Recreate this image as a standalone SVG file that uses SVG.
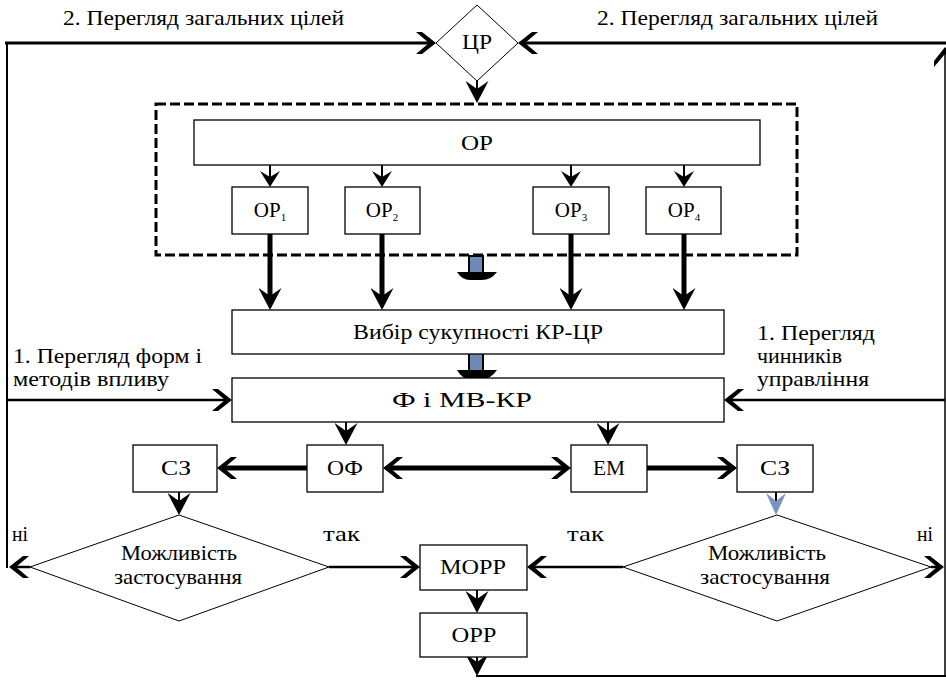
<svg xmlns="http://www.w3.org/2000/svg" width="946" height="680" viewBox="0 0 946 680">
<defs>
<style>
.box{fill:#fff;stroke:#000;stroke-width:1.3}
.dia{fill:#fff;stroke:#000;stroke-width:1}
.dash{fill:none;stroke:#000;stroke-width:3;stroke-dasharray:10 4}
.ln{fill:none;stroke:#000}
.w2{stroke-width:2.5}
.w3{stroke-width:3}
.w5{stroke-width:5}
.blk{fill:#6f89b6;stroke:#000;stroke-width:2}
</style>
<marker id="chev" markerUnits="userSpaceOnUse" viewBox="0 0 20 22" markerWidth="20" markerHeight="22" refX="14" refY="11" orient="auto-start-reverse">
<path d="M0,0 L6,0 L20,11 L6,22 L0,22 L13,11 z" fill="#000"/>
</marker>
<marker id="st" markerUnits="userSpaceOnUse" viewBox="0 0 16 20" markerWidth="16" markerHeight="20" refX="10" refY="10" orient="auto">
<path d="M0,0 L16,10 L0,20 L6,10 z" fill="#000"/>
</marker>
<marker id="stL" markerUnits="userSpaceOnUse" viewBox="0 0 22 23" markerWidth="22" markerHeight="23" refX="14" refY="11.5" orient="auto">
<path d="M0,0 L22,11.5 L0,23 L8,11.5 z" fill="#000"/>
</marker>
<marker id="stB" markerUnits="userSpaceOnUse" viewBox="0 0 22 20" markerWidth="22" markerHeight="20" refX="14" refY="10" orient="auto">
<path d="M0,0 L22,10 L0,20 L8,10 z" fill="#7b93bd"/>
</marker>
</defs>
<rect width="946" height="680" fill="#fff"/>

<g id="labels">
<text font-family="Liberation Serif" font-size="21" x="63" y="25" textLength="281" lengthAdjust="spacingAndGlyphs">2. Перегляд загальних цілей</text>
<text font-family="Liberation Serif" font-size="21" x="597" y="25" textLength="281" lengthAdjust="spacingAndGlyphs">2. Перегляд загальних цілей</text>
<text font-family="Liberation Serif" font-size="21" x="13" y="363" textLength="189" lengthAdjust="spacingAndGlyphs">1. Перегляд форм і</text>
<text font-family="Liberation Serif" font-size="21" x="13" y="386" textLength="156" lengthAdjust="spacingAndGlyphs">методів впливу</text>
<text font-family="Liberation Serif" font-size="21" x="757" y="340" textLength="118" lengthAdjust="spacingAndGlyphs">1. Перегляд</text>
<text font-family="Liberation Serif" font-size="21" x="757" y="363" textLength="85" lengthAdjust="spacingAndGlyphs">чинників</text>
<text font-family="Liberation Serif" font-size="21" x="757" y="386" textLength="112" lengthAdjust="spacingAndGlyphs">управління</text>
<text font-family="Liberation Serif" font-size="21" x="12" y="541" textLength="16" lengthAdjust="spacingAndGlyphs">ні</text>
<text font-family="Liberation Serif" font-size="21" x="323" y="541" textLength="37" lengthAdjust="spacingAndGlyphs">так</text>
<text font-family="Liberation Serif" font-size="21" x="567" y="541" textLength="37" lengthAdjust="spacingAndGlyphs">так</text>
<text font-family="Liberation Serif" font-size="21" x="917" y="541" textLength="16" lengthAdjust="spacingAndGlyphs">ні</text>
</g>

<g id="connectors">
<path class="ln" d="M7,568 V43" stroke-width="2" stroke="#333"/>
<path class="ln w3" d="M5,43 H430" marker-end="url(#chev)"/>
<path class="ln w3" d="M946,43 H524" marker-end="url(#chev)"/>
<path class="ln" d="M945,676 V53" stroke-width="1.5" stroke="#333" marker-end="url(#chev)"/>
<path class="ln" d="M476,676 H946" stroke-width="2"/>
<path class="ln" d="M477,81 V95" stroke-width="2" marker-end="url(#stL)"/>
<path class="ln" d="M270,165 V181" stroke-width="2" marker-end="url(#st)"/>
<path class="ln" d="M382,165 V181" stroke-width="2" marker-end="url(#st)"/>
<path class="ln" d="M571,165 V181" stroke-width="2" marker-end="url(#st)"/>
<path class="ln" d="M684,165 V181" stroke-width="2" marker-end="url(#st)"/>
<path class="ln w5" d="M270,234 V302" marker-end="url(#stL)"/>
<path class="ln w5" d="M382,234 V302" marker-end="url(#stL)"/>
<path class="ln w5" d="M571,234 V302" marker-end="url(#stL)"/>
<path class="ln w5" d="M684,234 V302" marker-end="url(#stL)"/>
<rect class="blk" x="469" y="256" width="14" height="17"/>
<path d="M457,272 Q462,280 470,280 H482 Q491,280 497,272 Z" fill="#000"/>
<rect class="blk" x="469" y="353" width="14" height="18"/>
<path d="M457,370 Q462,379 470,379 H482 Q491,379 497,370 Z" fill="#000"/>
<path class="ln w2" d="M7,400 H226" marker-end="url(#chev)"/>
<path class="ln w2" d="M945,400 H730" marker-end="url(#chev)"/>
<path class="ln" d="M346,422 V437" stroke-width="2" marker-end="url(#stL)"/>
<path class="ln" d="M608,422 V437" stroke-width="2" marker-end="url(#stL)"/>
<path class="ln w5" d="M307,468 H223" marker-end="url(#chev)"/>
<path class="ln w5" d="M389,468 H565" marker-start="url(#chev)" marker-end="url(#chev)"/>
<path class="ln w5" d="M647,468 H731" marker-end="url(#chev)"/>
<path class="ln" d="M179,492 V507" stroke-width="2" marker-end="url(#stL)"/>
<path class="ln" d="M776,492 V507" stroke-width="2" stroke="#7b93bd" marker-end="url(#stB)"/>
<path class="ln w2" d="M329,567 H414" marker-end="url(#chev)"/>
<path class="ln w2" d="M623,567 H533" marker-end="url(#chev)"/>
<path class="ln w2" d="M30,567 H15" marker-end="url(#chev)"/>
<path class="ln w2" d="M931,567 H938" marker-end="url(#chev)"/>
<path class="ln" d="M477,590 V605" stroke-width="2" marker-end="url(#stL)"/>
<path class="ln" d="M477,657 V668" stroke-width="2" marker-end="url(#stL)"/>
</g>

<g id="node-CR">
<polygon class="dia" points="477,5 518,43 477,81 436,43"/>
<text font-family="Liberation Serif" font-size="21" text-anchor="middle" x="477" y="49" textLength="30" lengthAdjust="spacingAndGlyphs">ЦР</text>
</g>

<g id="node-group">
<rect class="dash" x="156" y="104" width="641" height="151"/>
</g>

<g id="node-OR">
<rect class="box" x="194" y="120" width="566" height="45"/>
<text font-family="Liberation Serif" font-size="21" text-anchor="middle" x="477" y="150" textLength="32" lengthAdjust="spacingAndGlyphs">ОР</text>
</g>
<g id="node-OR1">
<rect class="box" x="232" y="187" width="76" height="47"/>
<text font-family="Liberation Serif" font-size="21" text-anchor="middle" x="270" y="217">ОР<tspan font-size="11" dy="4">1</tspan></text>
</g>
<g id="node-OR2">
<rect class="box" x="345" y="187" width="75" height="47"/>
<text font-family="Liberation Serif" font-size="21" text-anchor="middle" x="382" y="217">ОР<tspan font-size="11" dy="4">2</tspan></text>
</g>
<g id="node-OR3">
<rect class="box" x="533" y="187" width="76" height="47"/>
<text font-family="Liberation Serif" font-size="21" text-anchor="middle" x="571" y="217">ОР<tspan font-size="11" dy="4">3</tspan></text>
</g>
<g id="node-OR4">
<rect class="box" x="646" y="187" width="75" height="47"/>
<text font-family="Liberation Serif" font-size="21" text-anchor="middle" x="684" y="217">ОР<tspan font-size="11" dy="4">4</tspan></text>
</g>

<g id="node-vybir">
<rect class="box" x="232" y="310" width="492" height="44"/>
<text font-family="Liberation Serif" font-size="21" text-anchor="middle" x="478" y="339" textLength="250" lengthAdjust="spacingAndGlyphs">Вибір сукупності КР-ЦР</text>
</g>
<g id="node-FiMV">
<rect class="box" x="232" y="378" width="492" height="44"/>
<text font-family="Liberation Serif" font-size="21" text-anchor="middle" x="462" y="407" textLength="140" lengthAdjust="spacingAndGlyphs">Ф і МВ-КР</text>
</g>

<g id="node-SZ1">
<rect class="box" x="133" y="445" width="84" height="47"/>
<text font-family="Liberation Serif" font-size="21" text-anchor="middle" x="176" y="475" textLength="30" lengthAdjust="spacingAndGlyphs">СЗ</text>
</g>
<g id="node-OF">
<rect class="box" x="307" y="445" width="76" height="47"/>
<text font-family="Liberation Serif" font-size="21" text-anchor="middle" x="345" y="475" textLength="36" lengthAdjust="spacingAndGlyphs">ОФ</text>
</g>
<g id="node-EM">
<rect class="box" x="571" y="445" width="76" height="47"/>
<text font-family="Liberation Serif" font-size="21" text-anchor="middle" x="609" y="475" textLength="32" lengthAdjust="spacingAndGlyphs">ЕМ</text>
</g>
<g id="node-SZ2">
<rect class="box" x="737" y="445" width="76" height="47"/>
<text font-family="Liberation Serif" font-size="21" text-anchor="middle" x="775" y="475" textLength="30" lengthAdjust="spacingAndGlyphs">СЗ</text>
</g>

<g id="node-dec1">
<polygon class="dia" points="179,515 329,567 179,621 30,567"/>
<text font-family="Liberation Serif" font-size="21" text-anchor="middle" x="179" y="560" textLength="116" lengthAdjust="spacingAndGlyphs">Можливість</text>
<text font-family="Liberation Serif" font-size="21" text-anchor="middle" x="178" y="584" textLength="128" lengthAdjust="spacingAndGlyphs">застосування</text>
</g>
<g id="node-dec2">
<polygon class="dia" points="777,515 931,567 777,621 623,567"/>
<text font-family="Liberation Serif" font-size="21" text-anchor="middle" x="767" y="560" textLength="118" lengthAdjust="spacingAndGlyphs">Можливість</text>
<text font-family="Liberation Serif" font-size="21" text-anchor="middle" x="765" y="584" textLength="130" lengthAdjust="spacingAndGlyphs">застосування</text>
</g>

<g id="node-MORR">
<rect class="box" x="420" y="545" width="107" height="45"/>
<text font-family="Liberation Serif" font-size="21" text-anchor="middle" x="473" y="574" textLength="66" lengthAdjust="spacingAndGlyphs">МОРР</text>
</g>
<g id="node-ORR">
<rect class="box" x="420" y="613" width="107" height="44"/>
<text font-family="Liberation Serif" font-size="21" text-anchor="middle" x="474" y="642" textLength="45" lengthAdjust="spacingAndGlyphs">ОРР</text>
</g>
</svg>
